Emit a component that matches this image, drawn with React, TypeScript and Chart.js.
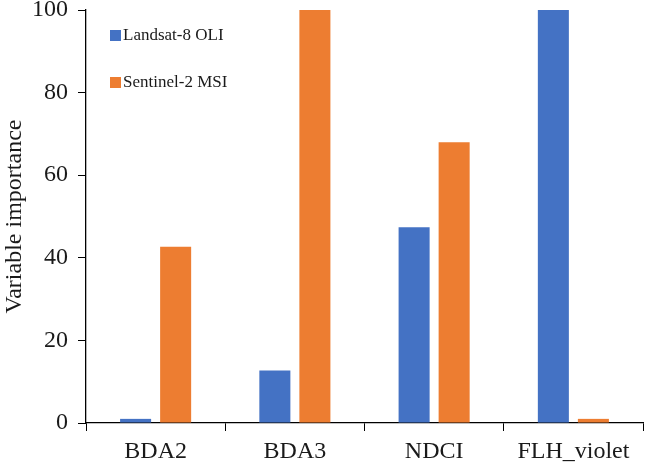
import { useEffect, useRef } from 'react';
import { Chart, registerables, Plugin } from 'chart.js';

Chart.register(...registerables);

const categories = ['BDA2', 'BDA3', 'NDCI', 'FLH_violet'];
const landsatValues = [1, 12.7, 47.4, 100];
const sentinelValues = [42.7, 100, 68, 1];
const yTicks = [0, 20, 40, 60, 80, 100];

const FONT = '"Liberation Serif", "Times New Roman", serif';

// legend drawn inside the plot, Excel style
const insideLegend: Plugin<'bar'> = {
  id: 'insideLegend',
  afterDraw(chart) {
    const { ctx, chartArea } = chart;
    ctx.save();
    ctx.font = `17px ${FONT}`;
    ctx.textBaseline = 'middle';
    chart.data.datasets.forEach((ds, i) => {
      const x = chartArea.left + 24;
      const y = chartArea.top + 26 + i * 47;
      ctx.fillStyle = ds.backgroundColor as string;
      ctx.fillRect(x, y - 6, 11, 11);
      ctx.fillStyle = '#1a1a1a';
      ctx.textAlign = 'left';
      ctx.fillText(ds.label ?? '', x + 13, y);
    });
    ctx.restore();
  },
};

export default function App() {
  const chartRef = useRef<HTMLCanvasElement | null>(null);

  useEffect(() => {
    document.body.style.margin = '0';
    if (!chartRef.current) return;
    const ctx = chartRef.current.getContext('2d');
    if (!ctx) return;

    const chartInstance = new Chart(ctx, {
      type: 'bar',
      data: {
        labels: categories,
        datasets: [
          {
            label: 'Landsat-8 OLI',
            data: landsatValues,
            backgroundColor: '#4472C4',
            borderWidth: 0,
          },
          {
            label: 'Sentinel-2 MSI',
            data: sentinelValues,
            backgroundColor: '#ED7D31',
            borderWidth: 0,
          },
        ],
      },
      options: {
        animation: false,
        responsive: false,
        maintainAspectRatio: false,
        layout: { padding: { top: 10, right: 2, left: 0, bottom: 0 } },
        datasets: {
          bar: { categoryPercentage: 0.575, barPercentage: 0.775 },
        },
        plugins: {
          legend: { display: false },
          tooltip: { enabled: false },
        },
        scales: {
          x: {
            grid: {
              display: true,
              offset: true,
              drawOnChartArea: false,
              color: '#000',
              tickLength: 8,
            },
            border: { display: true, color: '#000', width: 1.3 },
            ticks: {
              color: '#1a1a1a',
              font: { family: FONT, size: 24 },
              padding: 6,
              maxRotation: 0,
            },
            afterFit(scale) {
              scale.height = 43;
            },
          },
          y: {
            min: 0,
            max: 100,
            afterBuildTicks(scale) {
              scale.ticks = yTicks.map((v) => ({ value: v }));
            },
            grid: {
              display: true,
              drawOnChartArea: false,
              color: '#000',
              tickLength: 8,
            },
            border: { display: true, color: '#000', width: 1.3 },
            ticks: {
              color: '#1a1a1a',
              font: { family: FONT, size: 24 },
              padding: 10,
            },
            title: {
              display: true,
              text: 'Variable importance',
              color: '#1a1a1a',
              font: { family: FONT, size: 24 },
              padding: { top: 0, bottom: 2 },
            },
            afterFit(scale) {
              scale.width = 86;
              scale.paddingTop = 0;
              scale.paddingBottom = 0;
            },
          },
        },
      },
      plugins: [insideLegend],
    });

    return () => {
      chartInstance.destroy();
    };
  }, []);

  return (
    <div style={{ width: 645, height: 466 }}>
      <canvas ref={chartRef} width={645} height={466}></canvas>
    </div>
  );
}
